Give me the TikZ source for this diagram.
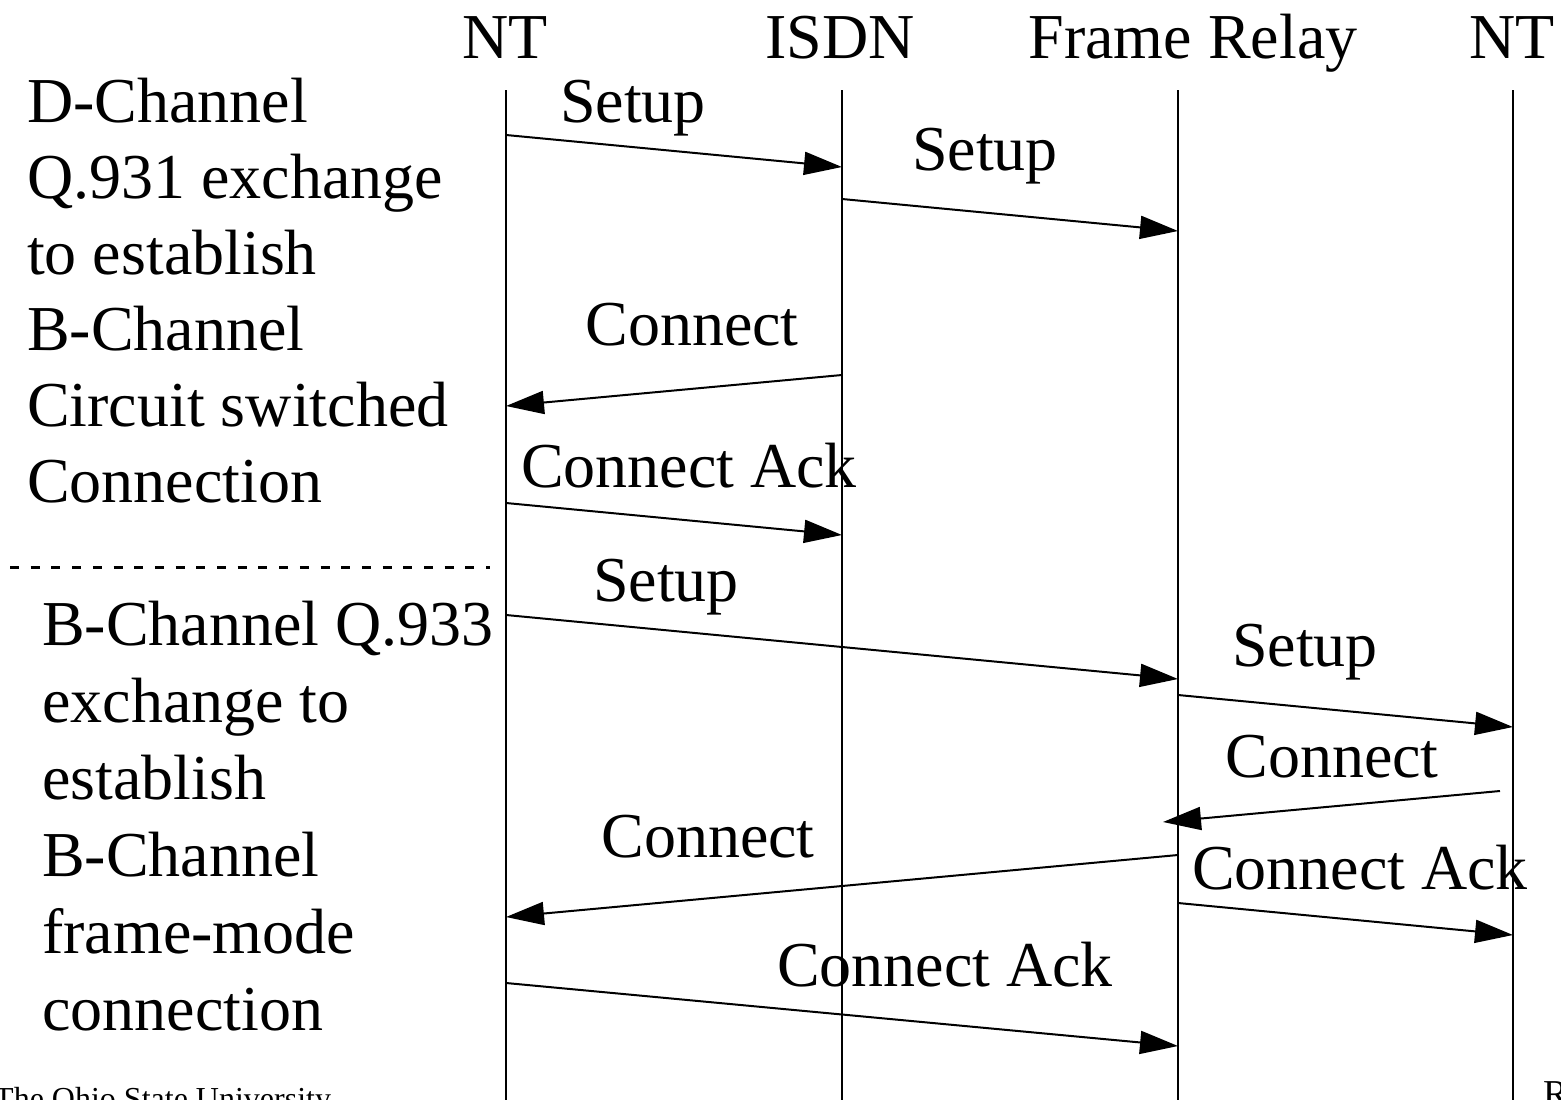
\documentclass[tikz,border=0pt]{standalone}
\usepackage{fontspec}
\setmainfont{Liberation Serif}
\usetikzlibrary{arrows.meta}

\tikzset{
  txt/.style={font=\fontsize{64}{76}\selectfont, inner sep=0pt},
  msg/.style={line width=2pt, -{Triangle[length=38pt,width=23pt]}},
  life/.style={line width=2pt}
}

\begin{document}
\begin{tikzpicture}[x=1pt,y=-1pt]
		\useasboundingbox (0,0) rectangle (1561,1100);
		\clip (0,0) rectangle (1561,1100);
		% entities
		\node[txt, anchor=base] (hnta) at (505,58) {NT};
		\node[txt, anchor=base] (hisdn) at (840,58) {ISDN};
		\node[txt, anchor=base] (hfr) at (1193,58) {Frame Relay};
		\node[txt, anchor=base] (hntb) at (1512,58) {NT};
		\foreach \n/\x in {nta/506,isdn/842,fr/1178,ntb/1513}{
			\coordinate (\n top) at (\x,90);
			\coordinate (\n bot) at (\x,1105);
			\draw [life] (\n top) -- (\n bot);
		}
		% message end points
		\coordinate (a1) at (506,135);  \coordinate (b1) at (842,167);
		\coordinate (a2) at (842,199);  \coordinate (b2) at (1178,231);
		\coordinate (a3) at (842,375);  \coordinate (b3) at (506,406);
		\coordinate (a4) at (506,503);  \coordinate (b4) at (842,535);
		\coordinate (a5) at (506,615);  \coordinate (b5) at (1178,679);
		\coordinate (a6) at (1178,695); \coordinate (b6) at (1513,727);
		\coordinate (a7) at (1500,791); \coordinate (b7) at (1163,822);
		\coordinate (a8) at (1178,855); \coordinate (b8) at (506,917);
		\coordinate (a9) at (1178,903); \coordinate (b9) at (1513,935);
		\coordinate (a10) at (506,983); \coordinate (b10) at (1178,1046);
		\foreach \i in {1,...,10}
			\draw [msg] (a\i) -- (b\i);
		% message labels
		\node[txt, anchor=base] (m1) at (633,122) {Setup};
		\node[txt, anchor=base] (m2) at (985,170) {Setup};
		\node[txt, anchor=base] (m3) at (692,345) {Connect};
		\node[txt, anchor=base] (m4) at (689,487) {Connect Ack};
		\node[txt, anchor=base] (m5) at (666,601) {Setup};
		\node[txt, anchor=base] (m6) at (1305,666) {Setup};
		\node[txt, anchor=base] (m7) at (1332,777) {Connect};
		\node[txt, anchor=base] (m8) at (708,857) {Connect};
		\node[txt, anchor=base] (m9) at (1360,889) {Connect Ack};
		\node[txt, anchor=base] (m10) at (945,986) {Connect Ack};
		% left side notes
		\foreach \t [count=\i] in {D-Channel,Q.931 exchange,to establish,B-Channel,Circuit switched,Connection}
			\node[txt, anchor=base west] (d\i) at (27,122+76*\i-76) {\t};
		\coordinate (sepa) at (10,567);
		\coordinate (sepb) at (490,567);
		\draw [line width=3pt, dash pattern=on 9pt off 11.7pt] (sepa) -- (sepb);
		\foreach \t [count=\i] in {B-Channel Q.933,exchange to,establish,B-Channel,frame-mode,connection}
			\node[txt, anchor=base west] (f\i) at (42,645+77*\i-77) {\t};
		% footer
		\node[font=\fontsize{32}{38}\selectfont, inner sep=0pt, anchor=base west] (osu) at (-6,1109) {The Ohio State University};
		\node[font=\fontsize{38}{44}\selectfont, inner sep=0pt, anchor=base west] (pg) at (1543,1106) {R};
	\end{tikzpicture}
\end{document}
